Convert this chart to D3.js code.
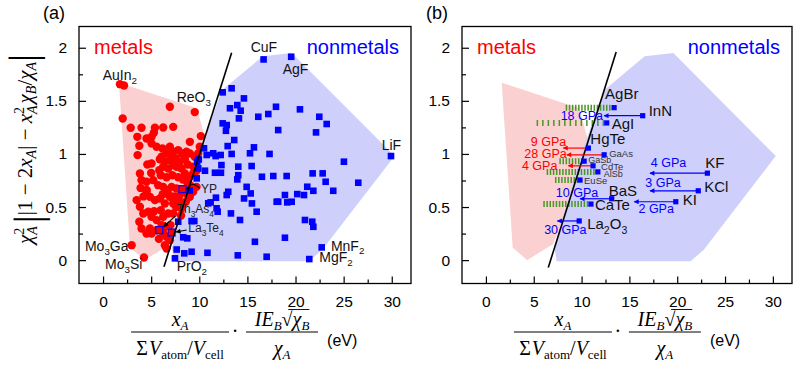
<!DOCTYPE html>
<html>
<head>
<meta charset="utf-8">
<script src="https://cdn.jsdelivr.net/npm/d3@7"></script>
<style>
body { margin: 0; background: #fff; }
text { font-family: 'Liberation Sans', Arial, sans-serif; }
</style>
</head>
<body>
<div class="canvas"></div>
<script>
// ---------- data ----------
const xTicks = [0, 5, 10, 15, 20, 25, 30];
const yTicks = [0, 0.5, 1, 1.5, 2];

// panel (a): metals (red circles) and nonmetals (blue squares)
const metals = [
  [1.76,1.657],[2.18,1.645],[6.94,1.444],[9.53,1.394],[2.04,1.334],[2.87,1.246],[4.0,1.246],[5.39,1.246],
  [5.28,1.199],[5.04,1.161],[4.52,1.146],[6.25,1.249],[7.29,1.255],[10.16,1.168],[3.56,1.161],[3.77,1.077],
  [5.04,1.099],[5.56,1.067],[6.18,1.051],[6.94,1.067],[7.29,1.02],[9.02,1.114],[3.59,0.989],[5.04,0.91],
  [6.08,0.973],[6.6,1.004],[7.12,0.973],[7.81,1.036],[8.15,1.004],[8.67,1.02],[9.02,1.004],[9.53,0.973],
  [9.88,1.004],[10.05,1.067],[5.84,0.847],[6.25,0.879],[6.77,0.863],[7.29,0.895],[7.63,0.879],[8.15,0.863],
  [8.5,0.816],[9.02,0.785],[9.36,0.816],[3.83,0.816],[4.0,0.753],[4.52,0.738],[5.22,0.753],[5.73,0.706],
  [6.25,0.69],[6.6,0.659],[7.12,0.69],[7.63,0.675],[8.15,0.643],[8.67,0.628],[9.02,0.596],[9.36,0.643],
  [9.71,0.69],[4.52,0.643],[4.87,0.596],[5.39,0.565],[5.91,0.581],[6.42,0.534],[6.94,0.596],[7.29,0.534],
  [7.81,0.565],[8.32,0.534],[8.15,0.486],[3.49,0.565],[3.83,0.502],[4.18,0.439],[4.7,0.455],[5.04,0.408],
  [5.56,0.377],[6.25,0.408],[6.77,0.439],[7.29,0.439],[3.77,0.361],[4.0,0.298],[4.52,0.251],[5.04,0.251],
  [5.56,0.282],[6.25,0.251],[6.6,0.22],[6.94,0.188],[6.42,0.141],[6.6,0.11],[2.97,0.141],[4.25,0.025],
  [4.87,0.298],[6.08,0.33],[5.9,0.95],[6.4,0.93],[7.0,0.94],[7.5,0.96],[8.0,0.93],[8.5,0.95],[8.8,0.9],
  [6.0,0.8],[6.6,0.78],[7.2,0.8],[7.8,0.78],[8.3,0.76],[8.8,0.72],[6.2,0.62],[6.8,0.62],[7.4,0.6],[7.9,0.6],
  [8.6,0.55],[9.1,0.7],[5.0,0.82],[4.6,0.9],[9.4,0.88],[9.7,0.84],[5.3,0.46],[6.0,0.47],[7.0,0.33],[5.8,0.2],
  [6.3,0.3],[4.2,0.6],[3.9,0.68],[7.6,0.5],[8.1,0.42],[4.53,0.66]
];
const nonmetals = [
  [16.68,1.89],[19.55,1.915],[12.43,1.58],[13.36,1.618],[14.64,1.523],[13.95,1.46],[13.19,1.43],[14.3,1.407],
  [14.12,1.335],[16.13,1.35],[17.17,1.376],[17.97,1.444],[20.46,1.42],[12.43,1.288],[12.85,1.272],[12.77,1.218],
  [18.2,1.225],[22.47,1.35],[23.24,1.282],[22.13,1.203],[13.63,1.131],[12.95,1.074],[15.68,1.062],[10.49,1.053],
  [11.45,1.006],[10.77,0.99],[11.7,0.98],[12.22,0.99],[13.36,1.0],[15.27,1.006],[17.3,1.0],[14.05,0.88],
  [15.44,0.886],[9.89,0.864],[10.59,0.842],[11.63,0.823],[12.25,0.823],[14.05,0.8],[13.95,0.76],[9.73,0.77],
  [14.92,0.69],[13.01,0.644],[12.85,0.613],[10.93,0.535],[11.18,0.544],[11.73,0.588],[11.8,0.488],[11.91,0.456],
  [13.29,0.44],[14.23,0.378],[15.96,0.456],[9.2,0.368],[9.48,0.368],[7.81,0.362],[8.33,0.215],[8.75,0.205],
  [7.65,0.1],[7.47,0.017],[8.44,0.064],[9.2,0.079],[14.0,0.045],[15.78,0.173],[17.0,0.032],[18.04,0.55],
  [9.0,0.655],[9.95,0.948],[9.78,0.926],[25.03,0.927],[26.52,0.729],[21.78,0.817],[22.82,0.817],[23.13,0.738],
  [23.92,0.653],[17.69,0.792],[19.08,0.792],[21.22,0.691],[21.85,0.653],[18.9,0.613],[20.18,0.622],[20.88,0.613],
  [18.2,0.55],[19.14,0.544],[19.6,0.55],[20.98,0.378],[21.74,0.362],[21.85,0.314],[18.9,0.211],[22.72,0.12],
  [21.43,0.01],[29.92,0.98],[15.34,0.628],[16.51,0.785],[14.65,0.581],[15.47,0.534],[12.3,0.895],[10.85,0.069]
];
// misclassified compounds (open squares)
const misfits = [
  { name: 'YP', x: 8.26, y: 0.668 },
  { name: 'Th3As4', x: 5.84, y: 0.282 },
  { name: 'La3Te4', x: 7.12, y: 0.26 }
];
// named compounds, label text anchored in data units
const namesA = [
  { name: 'AuIn2', x: -0.04, y: 1.695 },
  { name: 'ReO3', x: 7.65, y: 1.49 },
  { name: 'CuF', x: 15.34, y: 1.962 },
  { name: 'AgF', x: 18.66, y: 1.752 },
  { name: 'LiF', x: 28.95, y: 1.037 },
  { name: 'MnF2', x: 23.68, y: 0.09 },
  { name: 'MgF2', x: 22.47, y: -0.02 },
  { name: 'Mo3Ga', x: -1.88, y: 0.085 },
  { name: 'Mo3Si', x: 0.2, y: -0.085 },
  { name: 'PrO2', x: 7.65, y: -0.1 }
];
// convex hulls of the two classes
const metalHull = [[1.65,1.67],[9.75,1.43],[10.6,1.15],[9.6,0.7],[7.0,0.15],[4.3,0.0],[2.8,0.12]];
const nonmetalHull = [[12.35,1.6],[16.6,1.92],[19.6,1.95],[30.3,0.98],[22.8,0.1],[21.4,-0.01],[7.4,-0.01],[7.15,0.12],[9.7,0.93]];
// dividing line
const borderA = [[6.33,-0.062],[13.36,1.953]];
const borderB = [[6.52,-0.07],[13.62,1.96]];

// panel (b): compounds under pressure
const compounds = [
  { name: 'AgBr', x: 13.4, y: 1.436 },
  { name: 'InN', x: 16.39, y: 1.36 },
  { name: 'AgI', x: 12.63, y: 1.292 },
  { name: 'HgTe', x: 10.71, y: 1.055 },
  { name: 'GaAs', x: 12.36, y: 0.992 },
  { name: 'GaSb', x: 10.27, y: 0.932 },
  { name: 'CdTe', x: 11.2, y: 0.888 },
  { name: 'AlSb', x: 11.7, y: 0.831 },
  { name: 'EuSe', x: 9.84, y: 0.754 },
  { name: 'BaS', x: 13.15, y: 0.578 },
  { name: 'CaTe', x: 10.98, y: 0.528 },
  { name: 'La2O3', x: 9.75, y: 0.369 },
  { name: 'KF', x: 23.15, y: 0.819 },
  { name: 'KCl', x: 22.2, y: 0.653 },
  { name: 'KI', x: 19.85, y: 0.55 }
];
// pressure-induced transitions: compound, final x, pressure, colour class
const transitions = [
  { name: 'InN', to: 12.35, p: '18 GPa', kind: 'non' },
  { name: 'HgTe', to: 8.09, p: '9 GPa', kind: 'met' },
  { name: 'GaAs', to: 8.45, p: '28 GPa', kind: 'met' },
  { name: 'CdTe', to: 8.62, p: '4 GPa', kind: 'met' },
  { name: 'BaS', to: 9.84, p: '10 GPa', kind: 'non' },
  { name: 'La2O3', to: 7.47, p: '30 GPa', kind: 'non' },
  { name: 'KF', to: 17.15, p: '4 GPa', kind: 'non' },
  { name: 'KCl', to: 17.15, p: '3 GPa', kind: 'non' },
  { name: 'KI', to: 15.5, p: '2 GPa', kind: 'non' }
];
// hatched bands (x range)
const bands = [
  { name: 'AgBr', x0: 8.34, x1: 13.2 },
  { name: 'AgI', x0: 5.3, x1: 12.4 },
  { name: 'GaSb', x0: 7.68, x1: 10.1 },
  { name: 'AlSb', x0: 6.35, x1: 11.5 },
  { name: 'EuSe', x0: 7.22, x1: 9.7 },
  { name: 'CaTe', x0: 6.0, x1: 10.8 }
];

// ---------- layout / style ----------
const W = 798, H = 369;
const plotTop = 26.5, plotBottom = 283.5;
const RED = '#ff0000', BLUE = '#0000ff', GREEN = '#4a962a';
const PINK = '#fbd0d0', LAV = '#cfcffb';

// label offsets in px for panel (b): [dx, dy, font size]
const bLabel = {
  AgBr: [-9, -8.5, 15], InN: [6, 0, 15], AgI: [5, 6, 15], HgTe: [2, -4, 15],
  GaAs: [5, 2.5, 9.5], GaSb: [4, 1.5, 9], CdTe: [8, 4.5, 9.5], AlSb: [6, 5, 9], EuSe: [4, 4, 9.5],
  BaS: [-3, -3, 15], CaTe: [4, 6, 15], La2O3: [8, 8.5, 15], KF: [-2, -5, 15], KCl: [6, 1, 15], KI: [7, 3, 15]
};
// pressure label placement relative to arrow tip: [anchor, dx, dy]
const pLabel = {
  InN: ['end', -1, 4], HgTe: ['end', 3, -2.5], GaAs: ['end', 0, 3.5], CdTe: ['end', -11, 4.5],
  BaS: ['middle', -3, -2], La2O3: ['middle', 8, 13], KF: ['middle', 18.5, -6.5],
  KCl: ['middle', 13, -4], KI: ['middle', 22, 11]
};
const misfitStyle = {
  YP: { lx: 18.4, ly: 4 },
  Th3As4: { lx: 17.4, ly: -16.8 },
  La3Te4: { lx: 16.7, ly: -0.2 }
};

const svg = d3.select('.canvas').append('svg')
    .attr('width', W)
    .attr('height', H);

const defs = svg.append('defs');
[['arr-blue', BLUE], ['arr-red', RED], ['arr-black', '#000']].forEach(([id, c]) => {
  defs.append('marker')
      .attr('id', id)
      .attr('viewBox', '0 0 10 10')
      .attr('refX', 9).attr('refY', 5)
      .attr('markerWidth', 6).attr('markerHeight', 5)
      .attr('markerUnits', 'userSpaceOnUse')
      .attr('orient', 'auto')
    .append('path')
      .attr('d', 'M0,0 L10,5 L0,10 z')
      .attr('fill', c);
});

const y = d3.scaleLinear().domain([-0.22, 2.2]).range([plotBottom, plotTop]);

// chemical formula with subscript digits
function chem(t, s, fs) {
  let down = false;
  s.match(/\d+|\D+/g).forEach(p => {
    const ts = t.append('tspan').text(p);
    if (/\d/.test(p)) {
      ts.attr('font-size', fs * 0.7).attr('dy', fs * 0.28);
      down = true;
    } else if (down) {
      ts.attr('dy', -fs * 0.28);
      down = false;
    }
  });
}

function drawPanel(left, right, tag) {
  const x = d3.scaleLinear().domain([-2.5, 32]).range([left, right]);
  const g = svg.append('g');

  const line = d3.line().x(d => x(d[0])).y(d => y(d[1]));
  g.append('path').datum(metalHull)
      .attr('d', d => line(d) + 'Z').attr('fill', PINK);
  g.append('path').datum(nonmetalHull)
      .attr('d', d => line(d) + 'Z').attr('fill', LAV);

  // axes with inward ticks
  const xMinor = d3.range(-2.5, 32.1, 2.5).filter(v => v % 5 !== 0 && v > -2.5);
  const yMinor = d3.range(-0.25, 2.2, 0.25).filter(v => Math.abs(v * 2 - Math.round(v * 2)) > 1e-6 && v > -0.22);

  g.append('g').attr('transform', `translate(0,${plotBottom})`)
      .call(d3.axisBottom(x).tickValues(xTicks).tickSize(-7).tickPadding(12).tickFormat(d3.format('d')));
  g.append('g').attr('transform', `translate(0,${plotBottom})`)
      .call(d3.axisBottom(x).tickValues(xMinor).tickSize(-4).tickFormat(''));
  g.append('g').attr('transform', `translate(${left},0)`)
      .call(d3.axisLeft(y).tickValues(yTicks).tickSize(-7).tickPadding(12).tickFormat(d3.format('~g')));
  g.append('g').attr('transform', `translate(${left},0)`)
      .call(d3.axisLeft(y).tickValues(yMinor).tickSize(-4).tickFormat(''));
  g.selectAll('.domain').remove();
  g.selectAll('.tick line').attr('stroke', '#000').attr('stroke-width', 1.2);
  g.selectAll('.tick text')
      .attr('font-size', 15.5)
      .style('font-family', "'Liberation Sans', Arial, sans-serif")
      .attr('fill', '#000');

  g.append('rect')
      .attr('x', left).attr('y', plotTop)
      .attr('width', right - left).attr('height', plotBottom - plotTop)
      .attr('fill', 'none').attr('stroke', '#000').attr('stroke-width', 1.3);

  g.append('text').attr('x', left + 15).attr('y', 53.5)
      .attr('fill', RED).attr('font-size', 20).text('metals');
  g.append('text').attr('x', right - 12).attr('y', 53.5)
      .attr('text-anchor', 'end')
      .attr('fill', BLUE).attr('font-size', 20).text('nonmetals');
  g.append('text').attr('x', left - 36).attr('y', 19)
      .attr('font-size', 18).text(tag);

  xTitle(g, x(0));
  return { g, x };
}

function xTitle(g, ox) {
  const serif = "'Liberation Serif', 'Times New Roman', serif";
  const fs = 20, sub = 13;
  const t1 = g.append('text').attr('x', ox + 77).attr('y', 326)
      .attr('text-anchor', 'middle').style('font-family', serif).attr('font-size', fs);
  t1.append('tspan').attr('font-style', 'italic').text('x');
  t1.append('tspan').attr('font-style', 'italic').attr('font-size', sub).attr('dy', 4).text('A');
  g.append('line').attr('x1', ox + 28).attr('x2', ox + 126).attr('y1', 332).attr('y2', 332)
      .attr('stroke', '#000').attr('stroke-width', 1);
  const d1 = g.append('text').attr('x', ox + 77).attr('y', 355)
      .attr('text-anchor', 'middle').style('font-family', serif).attr('font-size', fs);
  d1.append('tspan').text('\u03A3');
  d1.append('tspan').attr('font-style', 'italic').attr('dx', 1).text('V');
  d1.append('tspan').attr('font-size', sub).attr('dy', 4).text('atom');
  d1.append('tspan').attr('dy', -4).text('/');
  d1.append('tspan').attr('font-style', 'italic').text('V');
  d1.append('tspan').attr('font-size', sub).attr('dy', 4).text('cell');

  g.append('text').attr('x', ox + 132).attr('y', 338)
      .attr('text-anchor', 'middle').style('font-family', serif).attr('font-size', fs).text('\u00B7');

  const t2 = g.append('text').attr('x', ox + 179).attr('y', 326)
      .attr('text-anchor', 'middle').style('font-family', serif).attr('font-size', fs);
  t2.append('tspan').attr('font-style', 'italic').text('IE');
  t2.append('tspan').attr('font-style', 'italic').attr('font-size', sub).attr('dy', 4).text('B');
  t2.append('tspan').attr('dy', -4).text('\u221A');
  t2.append('tspan').attr('font-style', 'italic').text('\u03C7');
  t2.append('tspan').attr('font-style', 'italic').attr('font-size', sub).attr('dy', 4).text('B');
  const bb = t2.node().getBBox();
  g.append('line').attr('x1', bb.x + bb.width * 0.62).attr('x2', bb.x + bb.width)
      .attr('y1', bb.y + 1.5).attr('y2', bb.y + 1.5).attr('stroke', '#000').attr('stroke-width', 0.9);
  g.append('line').attr('x1', ox + 143).attr('x2', ox + 215).attr('y1', 332).attr('y2', 332)
      .attr('stroke', '#000').attr('stroke-width', 1);
  const d2 = g.append('text').attr('x', ox + 179).attr('y', 355)
      .attr('text-anchor', 'middle').style('font-family', serif).attr('font-size', fs);
  d2.append('tspan').attr('font-style', 'italic').text('\u03C7');
  d2.append('tspan').attr('font-style', 'italic').attr('font-size', sub).attr('dy', 4).text('A');

  g.append('text').attr('x', ox + 224).attr('y', 346)
      .attr('font-size', 16).text('(eV)');
}

// ---------- panel (a) ----------
const A = drawPanel(79, 411, '(a)');
const xa = A.x;

A.g.append('g').selectAll('circle')
  .data(metals)
  .enter().append('circle')
    .attr('cx', d => xa(d[0]))
    .attr('cy', d => y(d[1]))
    .attr('r', 4.2)
    .attr('fill', RED);

A.g.append('g').selectAll('rect')
  .data(nonmetals)
  .enter().append('rect')
    .attr('x', d => xa(d[0]) - 3.3)
    .attr('y', d => y(d[1]) - 3.3)
    .attr('width', 6.6).attr('height', 6.6)
    .attr('fill', BLUE);

A.g.append('g').selectAll('rect')
  .data(misfits)
  .enter().append('rect')
    .attr('x', d => xa(d.x) - 3.5)
    .attr('y', d => y(d.y) - 3.5)
    .attr('width', 7).attr('height', 7)
    .attr('fill', RED).attr('stroke', BLUE).attr('stroke-width', 1.2);

A.g.append('path').datum(borderA)
    .attr('d', d3.line().x(d => xa(d[0])).y(d => y(d[1])))
    .attr('stroke', '#000').attr('stroke-width', 1.6).attr('fill', 'none');

// callouts for the misfits
misfits.forEach(m => {
  const px = xa(m.x), py = y(m.y), s = misfitStyle[m.name];
  const t = A.g.append('text').attr('x', px + s.lx).attr('y', py + s.ly)
      .attr('font-size', 12).attr('fill', '#222');
  chem(t, m.name, 12);
  let d;
  if (m.name === 'YP') d = `M${px + 4},${py} Q${px + 10},${py - 9} ${px + 17},${py - 1}`;
  else if (m.name === 'Th3As4') d = `M${px + 16},${py - 14} L${px + 4.5},${py - 3.5}`;
  else d = `M${px + 15},${py - 2.5} L${px + 4.5},${py - 0.5}`;
  const c = A.g.append('path').attr('d', d).attr('fill', 'none')
      .attr('stroke', '#000').attr('stroke-width', 1.1);
  if (m.name !== 'YP') c.attr('marker-end', 'url(#arr-black)');
});

namesA.forEach(n => {
  const t = A.g.append('text').attr('x', xa(n.x)).attr('y', y(n.y))
      .attr('font-size', 14).attr('fill', '#111');
  chem(t, n.name, 14);
});

// ---------- panel (b) ----------
const B = drawPanel(462, 792, '(b)');
const xb = B.x;
const byName = new Map(compounds.map(c => [c.name, c]));

B.g.append('g').selectAll('line')
  .data(bands)
  .enter().append('line')
    .attr('x1', d => xb(d.x0))
    .attr('x2', d => xb(d.x1))
    .attr('y1', d => y(byName.get(d.name).y))
    .attr('y2', d => y(byName.get(d.name).y))
    .attr('stroke', GREEN)
    .attr('stroke-width', 6)
    .attr('stroke-dasharray', d => d.name === 'AgI' ? '1.5,4' : '1.5,1.6');

B.g.append('path').datum(borderB)
    .attr('d', d3.line().x(d => xb(d[0])).y(d => y(d[1])))
    .attr('stroke', '#000').attr('stroke-width', 1.6).attr('fill', 'none');

B.g.append('g').selectAll('line')
  .data(transitions)
  .enter().append('line')
    .attr('x1', d => xb(byName.get(d.name).x))
    .attr('x2', d => xb(d.to))
    .attr('y1', d => y(byName.get(d.name).y))
    .attr('y2', d => y(byName.get(d.name).y))
    .attr('stroke', d => d.kind === 'met' ? RED : BLUE)
    .attr('stroke-width', 1.2)
    .attr('marker-end', d => d.kind === 'met' ? 'url(#arr-red)' : 'url(#arr-blue)');

transitions.forEach(d => {
  const c = byName.get(d.name), o = pLabel[d.name];
  B.g.append('text')
      .attr('x', xb(d.to) + o[1])
      .attr('y', y(c.y) + o[2])
      .attr('text-anchor', o[0])
      .attr('font-size', 12.5)
      .attr('fill', d.kind === 'met' ? RED : BLUE)
      .text(d.p);
});

B.g.append('g').selectAll('rect')
  .data(compounds)
  .enter().append('rect')
    .attr('x', d => xb(d.x) - 2.6)
    .attr('y', d => y(d.y) - 2.6)
    .attr('width', 5.2).attr('height', 5.2)
    .attr('fill', BLUE);

compounds.forEach(c => {
  const o = bLabel[c.name];
  const t = B.g.append('text')
      .attr('x', xb(c.x) + o[0])
      .attr('y', y(c.y) + o[1])
      .attr('font-size', o[2])
      .attr('fill', o[2] < 12 ? '#333' : '#111');
  chem(t, c.name, o[2]);
});

// ---------- y axis title ----------
const serif = "'Liberation Serif', 'Times New Roman', serif";
const fsY = 21, subY = 14, barY = 40;
const yt = svg.append('text')
    .attr('transform', 'translate(32,149) rotate(-90)')
    .attr('text-anchor', 'middle')
    .style('font-family', serif)
    .attr('font-size', fsY);
yt.append('tspan').attr('font-style', 'italic').text('\u03C7');
yt.append('tspan').attr('font-size', subY).attr('dy', -8).text('2');
yt.append('tspan').attr('font-size', subY).attr('font-style', 'italic').attr('dx', -7).attr('dy', 13).text('A');
yt.append('tspan').attr('font-size', barY).attr('dx', 3).attr('dy', 4).text('|');
yt.append('tspan').attr('dy', -9).text('|1 \u2212 2');
yt.append('tspan').attr('font-style', 'italic').text('x');
yt.append('tspan').attr('font-size', subY).attr('font-style', 'italic').attr('dy', 4).text('A');
yt.append('tspan').attr('dy', -4).text('| \u2212 ');
yt.append('tspan').attr('font-style', 'italic').text('x');
yt.append('tspan').attr('font-size', subY).attr('dy', -8).text('2');
yt.append('tspan').attr('font-size', subY).attr('font-style', 'italic').attr('dx', -7).attr('dy', 13).text('A');
yt.append('tspan').attr('font-style', 'italic').attr('dx', 2).attr('dy', -5).text('\u03C7');
yt.append('tspan').attr('font-size', subY).attr('font-style', 'italic').attr('dy', 4).text('B');
yt.append('tspan').attr('dy', -4).text('/');
yt.append('tspan').attr('font-style', 'italic').text('\u03C7');
yt.append('tspan').attr('font-size', subY).attr('font-style', 'italic').attr('dy', 4).text('A');
yt.append('tspan').attr('font-size', barY).attr('dy', 0).text('|');
</script>
</body>
</html>
